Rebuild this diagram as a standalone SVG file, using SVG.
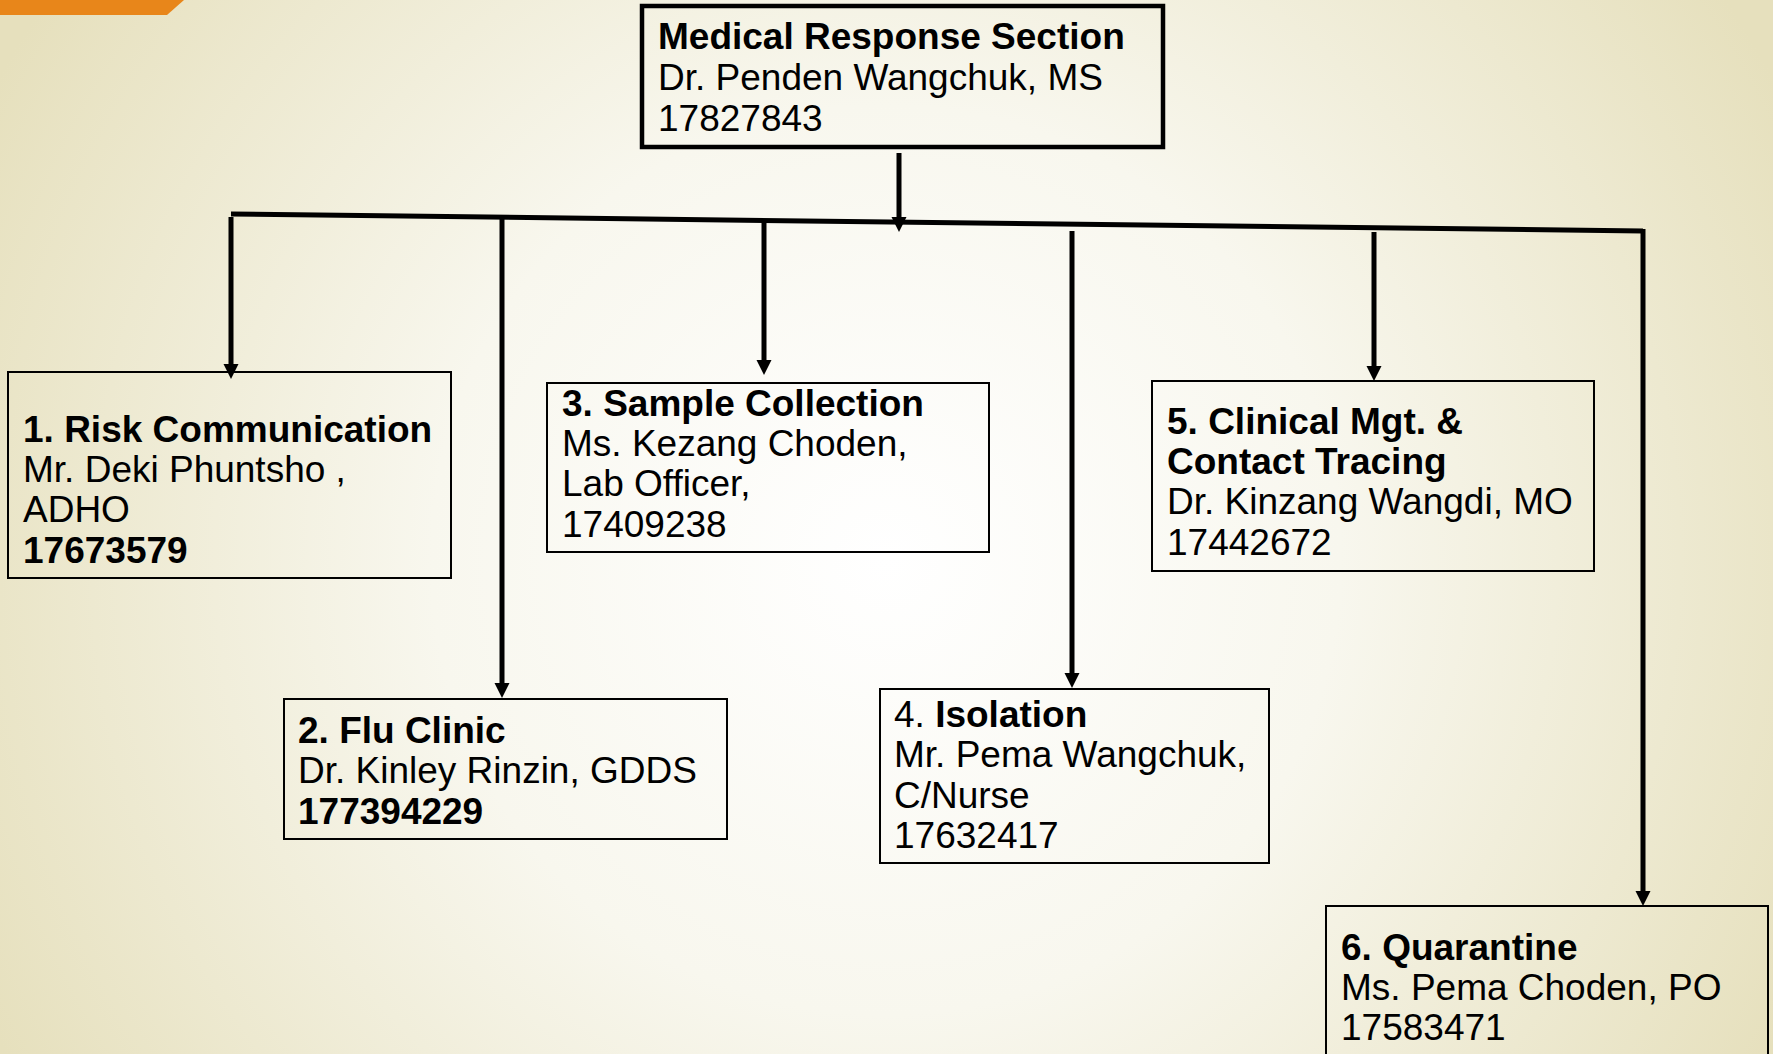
<svg xmlns="http://www.w3.org/2000/svg" width="1773" height="1054" viewBox="0 0 1773 1054">
<defs>
<radialGradient id="bg" gradientUnits="userSpaceOnUse" cx="886" cy="560" r="1010">
<stop offset="0" stop-color="#ffffff"/>
<stop offset="0.45" stop-color="#f8f7ee"/>
<stop offset="1" stop-color="#e6e0bd"/>
</radialGradient>
<marker id="arr" markerUnits="userSpaceOnUse" markerWidth="16" markerHeight="16" refX="2" refY="7.5" orient="auto">
<path d="M0,0 L15,7.5 L0,15 z" fill="#000"/>
</marker>
<style>
.box{fill:none;stroke:#000;stroke-width:2}
.main{fill:none;stroke:#000;stroke-width:4.5}
.t{font-family:"Liberation Sans",Arial,sans-serif;font-size:37px;fill:#000}
.b{font-weight:bold}
.c{fill:none;stroke:#000;stroke-width:5}
</style>
</defs>
<rect x="0" y="0" width="1773" height="1054" fill="url(#bg)"/>
<polygon points="0,0 184,0 167,15 0,15" fill="#e8861a"/>

<g id="connectors">
<line x1="231" y1="214" x2="1643" y2="231" stroke="#000" stroke-width="5"/>
<line class="c" x1="899" y1="153" x2="899" y2="219" marker-end="url(#arr)"/>
<line class="c" x1="231" y1="217" x2="231" y2="366" marker-end="url(#arr)"/>
<line class="c" x1="502" y1="218" x2="502" y2="685" marker-end="url(#arr)"/>
<line class="c" x1="764" y1="222" x2="764" y2="362" marker-end="url(#arr)"/>
<line class="c" x1="1072" y1="231" x2="1072" y2="675" marker-end="url(#arr)"/>
<line class="c" x1="1374" y1="232" x2="1374" y2="368" marker-end="url(#arr)"/>
<line class="c" x1="1643" y1="229" x2="1643" y2="893" marker-end="url(#arr)"/>
</g>

<g id="node-top">
<rect class="main" x="642" y="6" width="521" height="141"/>
<text class="t b" x="658" y="49">Medical Response Section</text>
<text class="t" x="658" y="90">Dr. Penden Wangchuk, MS</text>
<text class="t" x="658" y="131">17827843</text>
</g>

<g id="node-1">
<rect class="box" x="8" y="372" width="443" height="206"/>
<text class="t b" x="23" y="442">1. Risk Communication</text>
<text class="t" x="23" y="482">Mr. Deki Phuntsho ,</text>
<text class="t" x="23" y="522">ADHO</text>
<text class="t b" x="23" y="563">17673579</text>
</g>

<g id="node-2">
<rect class="box" x="284" y="699" width="443" height="140"/>
<text class="t b" x="298" y="743">2. Flu Clinic</text>
<text class="t" x="298" y="783">Dr. Kinley Rinzin, GDDS</text>
<text class="t b" x="298" y="824">177394229</text>
</g>

<g id="node-3">
<rect class="box" x="547" y="383" width="442" height="169"/>
<text class="t b" x="562" y="416">3. Sample Collection</text>
<text class="t" x="562" y="456">Ms. Kezang Choden,</text>
<text class="t" x="562" y="496">Lab Officer,</text>
<text class="t" x="562" y="537">17409238</text>
</g>

<g id="node-4">
<rect class="box" x="880" y="689" width="389" height="174"/>
<text class="t" x="894" y="727">4. <tspan class="b">Isolation</tspan></text>
<text class="t" x="894" y="767">Mr. Pema Wangchuk,</text>
<text class="t" x="894" y="808">C/Nurse</text>
<text class="t" x="894" y="848">17632417</text>
</g>

<g id="node-5">
<rect class="box" x="1152" y="381" width="442" height="190"/>
<text class="t b" x="1167" y="434">5. Clinical Mgt. &amp;</text>
<text class="t b" x="1167" y="474">Contact Tracing</text>
<text class="t" x="1167" y="514">Dr. Kinzang Wangdi, MO</text>
<text class="t" x="1167" y="555">17442672</text>
</g>

<g id="node-6">
<rect class="box" x="1326" y="906" width="442" height="160"/>
<text class="t b" x="1341" y="960">6. Quarantine</text>
<text class="t" x="1341" y="1000">Ms. Pema Choden, PO</text>
<text class="t" x="1341" y="1040">17583471</text>
</g>
</svg>
